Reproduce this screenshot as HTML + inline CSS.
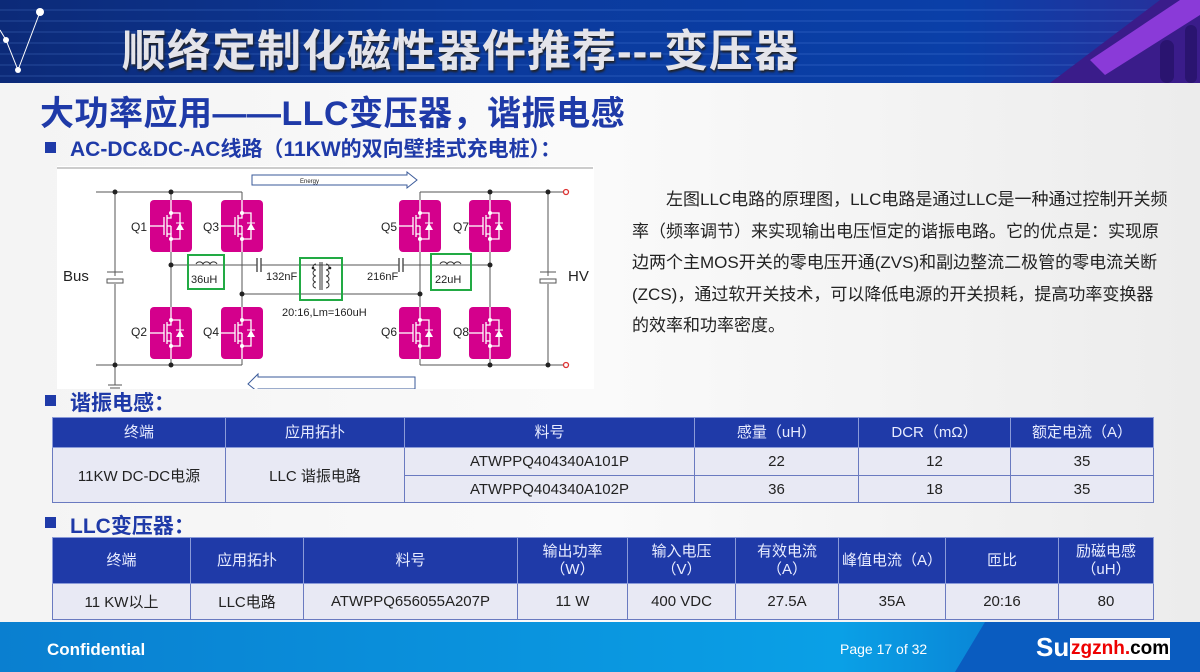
<!DOCTYPE html>
<html><head><meta charset="utf-8">
<style>
*{margin:0;padding:0;box-sizing:border-box}
body{width:1200px;height:672px;overflow:hidden;position:relative;font-family:"Liberation Sans","Noto Sans CJK SC",sans-serif;background:linear-gradient(90deg,#f4f4f4,#fafafa 50%,#ececec)}
.abs{position:absolute}
.hdr{left:0;top:0;width:1200px;height:83px;background:linear-gradient(90deg,#0c2a78,#0b3a9c 40%,#0a3fa8 80%,#2a2f9a);overflow:hidden}
.hdr .stripes{position:absolute;left:0;top:0;width:100%;height:100%;background:repeating-linear-gradient(180deg,rgba(255,255,255,0) 0 9px,rgba(120,170,255,.12) 9px 11px)}
.title{left:122px;top:15px;font-size:44px;font-weight:bold;color:#e4e4ea;letter-spacing:1px;text-shadow:1px 2px 2px #222;white-space:nowrap}
.h1{left:40px;top:86px;font-size:34px;font-weight:bold;color:#1f3aa8;letter-spacing:0.5px;white-space:nowrap}
.h2{left:70px;top:133px;font-size:21px;font-weight:bold;color:#1f3aa8;white-space:nowrap}
.bullet{width:11px;height:11px;background:#1f3aa8}
.para{left:632px;top:184px;width:538px;font-size:17px;line-height:31.5px;color:#222;text-indent:34px}
table{border-collapse:collapse;position:absolute;table-layout:fixed}
td{border:1px solid #6a7ac0;text-align:center;font-size:15px;color:#222;background:#e8e9f4}
th{border:1px solid #8a9ad8;background:#1f3aa8;color:#e8ecff;font-weight:normal;font-size:15px;line-height:18px}
.foot{left:0;top:622px;width:1200px;height:50px;background:linear-gradient(90deg,#0a7fd0,#0aa0e6 70%,#0a60c0)}
</style></head><body>
<div class="abs hdr"><div class="stripes"></div>
<svg class="abs" style="left:0;top:0" width="60" height="83"><polyline points="0,30 6,40 18,70 40,12" fill="none" stroke="#fff" stroke-width="1"/><circle cx="6" cy="40" r="3" fill="#fff"/><circle cx="18" cy="70" r="3" fill="#fff"/><circle cx="40" cy="12" r="4" fill="#fff"/></svg>
<svg class="abs" style="left:1010px;top:0" width="190" height="83"><polygon points="40,83 150,0 190,0 190,83" fill="#3a1c8a"/><polygon points="80,60 170,0 190,0 190,15 95,75" fill="#8a3ad8"/><rect x="150" y="40" width="14" height="43" rx="7" fill="#2a1470"/><rect x="175" y="25" width="12" height="58" rx="6" fill="#2a1470"/></svg>
<div class="abs title">顺络定制化磁性器件推荐---变压器</div>
</div>
<div class="abs h1">大功率应用——LLC变压器，谐振电感</div>
<div class="abs bullet" style="left:45px;top:142px"></div>
<div class="abs h2">AC-DC&amp;DC-AC线路（11KW的双向壁挂式充电桩）：</div>

<svg class="abs" style="left:57px;top:166px" width="537" height="223" viewBox="57 166 537 223">
<defs>
<g id="q">
<rect x="0" y="0" width="42" height="52" rx="4" fill="#d4008c"/>
<g stroke="#fff" stroke-width="1.3" fill="none">
<line x1="21" y1="0" x2="21" y2="13"/><line x1="21" y1="39" x2="21" y2="52"/>
<line x1="0" y1="26" x2="14" y2="26"/><line x1="14" y1="17" x2="14" y2="35"/>
<line x1="17" y1="15" x2="17" y2="37"/>
<polyline points="17,18 21,18 21,13 30,13 30,39 21,39 21,34 17,34"/>
<line x1="17" y1="26" x2="21" y2="26"/><line x1="21" y1="26" x2="21" y2="34"/>
</g>
<polygon points="26,30 34,30 30,23" fill="#fff"/><line x1="26" y1="23" x2="34" y2="23" stroke="#fff"/>
<circle cx="21" cy="13" r="2" fill="#fff"/><circle cx="21" cy="39" r="2" fill="#fff"/>
</g>
</defs>
<rect x="57" y="166" width="537" height="223" fill="#fff"/>
<line x1="57" y1="168" x2="593" y2="168" stroke="#999"/>
<g stroke="#555" stroke-width="1" fill="none">
<line x1="96" y1="192" x2="242" y2="192"/><line x1="96" y1="365" x2="242" y2="365"/>
<line x1="420" y1="192" x2="564" y2="192"/><line x1="420" y1="365" x2="564" y2="365"/>
<line x1="115" y1="192" x2="115" y2="276"/><line x1="115" y1="284" x2="115" y2="385"/>
<line x1="171" y1="192" x2="171" y2="365"/><line x1="242" y1="192" x2="242" y2="365"/>
<line x1="420" y1="192" x2="420" y2="365"/><line x1="490" y1="192" x2="490" y2="365"/>
<line x1="548" y1="192" x2="548" y2="276"/><line x1="548" y1="284" x2="548" y2="365"/>
<line x1="171" y1="265" x2="257" y2="265"/><line x1="261" y1="265" x2="399" y2="265"/><line x1="403" y1="265" x2="490" y2="265"/>
<line x1="242" y1="294" x2="420" y2="294"/>
<line x1="107" y1="272" x2="123" y2="272"/><rect x="107" y="279" width="16" height="4"/>
<line x1="540" y1="272" x2="556" y2="272"/><rect x="540" y="279" width="16" height="4"/>
<line x1="257" y1="258" x2="257" y2="272" stroke-width="1.5"/><line x1="261" y1="258" x2="261" y2="272" stroke-width="1.5"/>
<line x1="399" y1="258" x2="399" y2="272" stroke-width="1.5"/><line x1="403" y1="258" x2="403" y2="272" stroke-width="1.5"/>
<line x1="108" y1="385" x2="122" y2="385"/><line x1="110" y1="388" x2="120" y2="388"/>
<path d="M196 264 a4 4 0 0 1 7 0 a4 4 0 0 1 7 0 a4 4 0 0 1 7 0" stroke="#333"/>
<path d="M440 264 a4 4 0 0 1 7 0 a4 4 0 0 1 7 0 a4 4 0 0 1 7 0" stroke="#333"/>
<path d="M316 264 a3 3 0 0 0 0 6 a3 3 0 0 0 0 6 a3 3 0 0 0 0 6 a3 3 0 0 0 0 6" stroke="#333"/>
<path d="M326 264 a3 3 0 0 1 0 6 a3 3 0 0 1 0 6 a3 3 0 0 1 0 6 a3 3 0 0 1 0 6" stroke="#333"/>
<line x1="320" y1="262" x2="320" y2="290" stroke="#333"/><line x1="322" y1="262" x2="322" y2="290" stroke="#333"/>
</g>
<g fill="#222"><circle cx="115" cy="192" r="2.5"/><circle cx="171" cy="192" r="2.5"/><circle cx="115" cy="365" r="2.5"/><circle cx="171" cy="365" r="2.5"/>
<circle cx="490" cy="192" r="2.5"/><circle cx="548" cy="192" r="2.5"/><circle cx="490" cy="365" r="2.5"/><circle cx="548" cy="365" r="2.5"/>
<circle cx="171" cy="265" r="2.5"/><circle cx="490" cy="265" r="2.5"/><circle cx="242" cy="294" r="2.5"/><circle cx="420" cy="294" r="2.5"/>
<circle cx="313" cy="268" r="1.3"/><circle cx="330" cy="268" r="1.3"/></g>
<circle cx="566" cy="192" r="2.5" fill="none" stroke="#d33" stroke-width="1.3"/><circle cx="566" cy="365" r="2.5" fill="none" stroke="#d33" stroke-width="1.3"/>
<use href="#q" x="150" y="200"/><use href="#q" x="221" y="200"/><use href="#q" x="399" y="200"/><use href="#q" x="469" y="200"/>
<use href="#q" x="150" y="307"/><use href="#q" x="221" y="307"/><use href="#q" x="399" y="307"/><use href="#q" x="469" y="307"/>
<g fill="none" stroke="#22aa44" stroke-width="2"><rect x="188" y="255" width="36" height="34"/><rect x="300" y="258" width="42" height="42"/><rect x="431" y="254" width="40" height="36"/></g>
<g fill="none" stroke="#3a5a9a" stroke-width="1"><polygon points="252,175 407,175 407,172 417,180 407,188 407,185 252,185"/><polygon points="415,377 258,377 258,374 248,384 258,392 258,389 415,389"/></g>
<g font-family="Liberation Sans,sans-serif" fill="#222">
<text x="300" y="183" font-size="6">Energy</text>
<text x="63" y="281" font-size="15">Bus</text><text x="568" y="281" font-size="15">HV</text>
<text x="131" y="231" font-size="12">Q1</text><text x="203" y="231" font-size="12">Q3</text><text x="381" y="231" font-size="12">Q5</text><text x="453" y="231" font-size="12">Q7</text>
<text x="131" y="336" font-size="12">Q2</text><text x="203" y="336" font-size="12">Q4</text><text x="381" y="336" font-size="12">Q6</text><text x="453" y="336" font-size="12">Q8</text>
<text x="191" y="283" font-size="11">36uH</text><text x="435" y="283" font-size="11">22uH</text>
<text x="266" y="280" font-size="11">132nF</text><text x="367" y="280" font-size="11">216nF</text>
<text x="282" y="316" font-size="11">20:16,Lm=160uH</text>
</g>
</svg>

<div class="abs para">左图LLC电路的原理图，LLC电路是通过LLC是一种通过控制开关频率（频率调节）来实现输出电压恒定的谐振电路。它的优点是：实现原边两个主MOS开关的零电压开通(ZVS)和副边整流二极管的零电流关断(ZCS)，通过软开关技术，可以降低电源的开关损耗，提高功率变换器的效率和功率密度。</div>

<div class="abs bullet" style="left:45px;top:395px"></div>
<div class="abs h2" style="top:387px">谐振电感：</div>
<table style="left:52px;top:417px;width:1101px">
<colgroup><col style="width:173px"><col style="width:179px"><col style="width:290px"><col style="width:164px"><col style="width:152px"><col style="width:143px"></colgroup>
<tr style="height:30px"><th>终端</th><th>应用拓扑</th><th>料号</th><th>感量（uH）</th><th>DCR（mΩ）</th><th>额定电流（A）</th></tr>
<tr style="height:28px"><td rowspan="2">11KW DC-DC电源</td><td rowspan="2">LLC 谐振电路</td><td>ATWPPQ404340A101P</td><td>22</td><td>12</td><td>35</td></tr>
<tr style="height:27px"><td>ATWPPQ404340A102P</td><td>36</td><td>18</td><td>35</td></tr>
</table>

<div class="abs bullet" style="left:45px;top:517px"></div>
<div class="abs h2" style="top:510px">LLC变压器：</div>
<table style="left:52px;top:537px;width:1101px">
<colgroup><col style="width:138px"><col style="width:113px"><col style="width:214px"><col style="width:110px"><col style="width:108px"><col style="width:103px"><col style="width:107px"><col style="width:113px"><col style="width:95px"></colgroup>
<tr style="height:46px"><th>终端</th><th>应用拓扑</th><th>料号</th><th>输出功率<br>（W）</th><th>输入电压<br>（V）</th><th>有效电流<br>（A）</th><th>峰值电流（A）</th><th>匝比</th><th>励磁电感<br>（uH）</th></tr>
<tr style="height:36px"><td>11 KW以上</td><td>LLC电路</td><td>ATWPPQ656055A207P</td><td>11 W</td><td>400 VDC</td><td>27.5A</td><td>35A</td><td>20:16</td><td>80</td></tr>
</table>

<div class="abs foot">
<svg class="abs" style="left:955px;top:0" width="245" height="50"><polygon points="30,0 245,0 245,50 0,50" fill="#0a5cc0"/></svg>
<div class="abs" style="left:47px;top:18px;font-size:17px;font-weight:bold;color:#fff">Confidential</div>
<div class="abs" style="left:840px;top:19px;font-size:14px;color:#fff">Page 17 of 32</div>
<div class="abs" style="left:1036px;top:10px;font-size:26px;font-weight:bold;color:#fff">Su</div>
<div class="abs" style="left:1070px;top:16px;font-size:19px;font-weight:bold;color:#e00;background:#fff;padding:0 1px">zgznh.<span style="color:#000">com</span></div>
</div>
</body></html>
